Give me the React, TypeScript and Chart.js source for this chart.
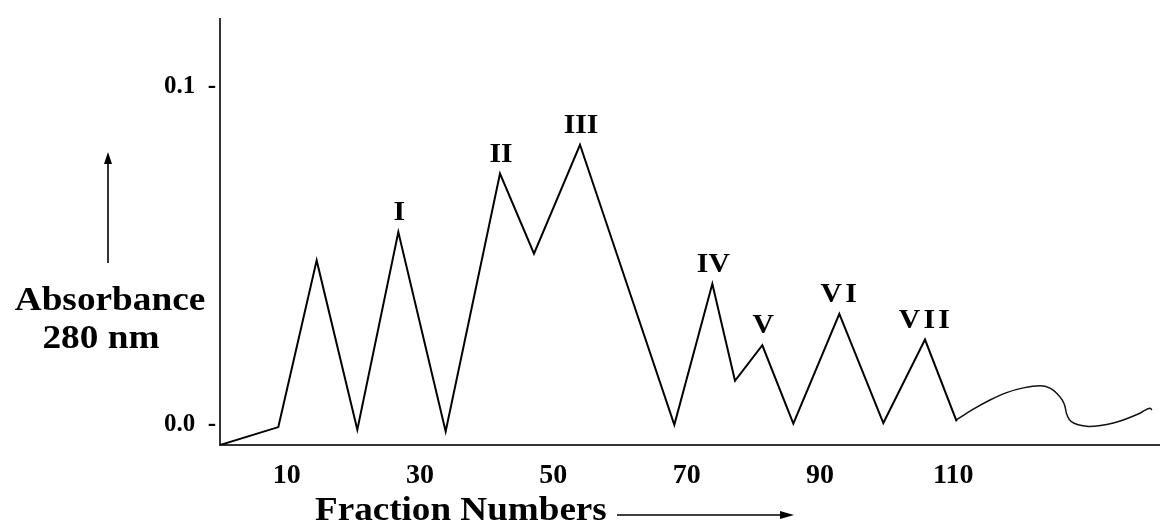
import React, { useEffect, useRef } from "react";
import { Chart, registerables } from "chart.js";

Chart.register(...registerables);

// Main elution profile (fraction number, absorbance at 280 nm)
const fractionsMain = [0, 8.75, 14.5, 20.6, 26.75, 33.85, 42.0, 47.1, 54.0, 68.15, 73.85, 77.25, 81.35, 86.0, 92.9, 99.5, 105.75, 110.5];
const absorbanceMain = [-0.006, -0.0007, 0.0486, -0.0015, 0.057, -0.002, 0.0743, 0.0506, 0.0828, 0.0, 0.0417, 0.013, 0.0235, 0.0003, 0.0328, 0.0005, 0.0252, 0.001];

// Smooth tail after fraction 110
const fractionsTail = [110.5, 113.0, 115.5, 118.0, 120.5, 123.0, 124.5, 125.5, 126.3, 126.75, 126.95, 127.4, 128.3, 129.5, 130.3, 134.0, 138.0, 139.5, 139.8];
const absorbanceTail = [0.0015, 0.0046, 0.0073, 0.0095, 0.0109, 0.0115, 0.0108, 0.0093, 0.0074, 0.0054, 0.0035, 0.0015, 0.0003, -0.0003, -0.0005, 0.0005, 0.0034, 0.0049, 0.0044];

// Peak labels and the index of the peak in the main series
const peakLabels = ["I", "II", "III", "IV", "V", "VI", "VII"];
const peakIndices = [4, 6, 8, 10, 12, 14, 16];

// Axis ticks
const xTickValues = [10, 30, 50, 70, 90, 110];
const yTickValues = [0, 0.1];
const yTickLabels = ["0.0  -", "0.1  -"];

const FONT = "'Liberation Serif', 'Times New Roman', serif";

function stretchText(ctx: CanvasRenderingContext2D, text: string, x: number, y: number, sx: number, align: CanvasTextAlign) {
  ctx.save();
  ctx.translate(x, y);
  ctx.scale(sx, 1);
  ctx.textAlign = align;
  ctx.textBaseline = "alphabetic";
  ctx.fillText(text, 0, 0);
  ctx.restore();
}

const annotationPlugin = {
  id: "annotations",
  afterDatasetsDraw(chart: any) {
    const ctx: CanvasRenderingContext2D = chart.ctx;
    const meta = chart.getDatasetMeta(0);
    ctx.save();
    ctx.fillStyle = "#000";
    ctx.font = `bold 27px ${FONT}`;
    peakLabels.forEach((lab, i) => {
      const pt = meta.data[peakIndices[i]];
      if (!pt) return;
      (ctx as any).letterSpacing = lab.startsWith("V") && lab.length > 1 ? "3px" : "0px";
      stretchText(ctx, lab, pt.x + 1, pt.y - 12, 1.1, "center");
    });
    (ctx as any).letterSpacing = "0px";
    ctx.restore();
  },
  afterDraw(chart: any) {
    const ctx: CanvasRenderingContext2D = chart.ctx;
    const area = chart.chartArea;
    ctx.save();
    ctx.fillStyle = "#000";
    ctx.strokeStyle = "#000";
    ctx.font = `bold 33px ${FONT}`;
    // y-axis title
    stretchText(ctx, "Absorbance", area.left - 110, 310, 1.13, "center");
    stretchText(ctx, "280 nm", area.left - 119, 348, 1.13, "center");
    // up arrow
    const ax = area.left - 112;
    ctx.lineWidth = 1.6;
    ctx.beginPath();
    ctx.moveTo(ax, 263);
    ctx.lineTo(ax, 160);
    ctx.stroke();
    ctx.beginPath();
    ctx.moveTo(ax, 152);
    ctx.lineTo(ax - 4, 164);
    ctx.lineTo(ax + 4, 164);
    ctx.closePath();
    ctx.fill();
    // x-axis title
    stretchText(ctx, "Fraction Numbers", area.left + 95, 520, 1.125, "left");
    // right arrow
    ctx.lineWidth = 1.3;
    ctx.beginPath();
    ctx.moveTo(area.left + 397, 515);
    ctx.lineTo(area.left + 565, 515);
    ctx.stroke();
    ctx.beginPath();
    ctx.moveTo(area.left + 574, 515);
    ctx.lineTo(area.left + 560, 511);
    ctx.lineTo(area.left + 560, 519);
    ctx.closePath();
    ctx.fill();
    ctx.restore();
  },
};

export default function App() {
  const canvasRef = useRef<HTMLCanvasElement | null>(null);

  useEffect(() => {
    if (!canvasRef.current) return;
    const chart = new Chart(canvasRef.current, {
      type: "line",
      data: {
        datasets: [
          {
            data: fractionsMain.map((x, i) => ({ x, y: absorbanceMain[i] })),
            borderColor: "#000",
            borderWidth: 2,
            pointRadius: 0,
            tension: 0,
            fill: false,
          },
          {
            data: fractionsTail.map((x, i) => ({ x, y: absorbanceTail[i] })),
            borderColor: "#111",
            borderWidth: 1.5,
            pointRadius: 0,
            cubicInterpolationMode: "monotone",
            fill: false,
          },
        ],
      },
      options: {
        animation: false,
        responsive: false,
        events: [],
        layout: { padding: { top: 17, right: 0, left: 0, bottom: 0 } },
        plugins: {
          legend: { display: false },
          tooltip: { enabled: false },
          title: { display: false },
        },
        scales: {
          x: {
            type: "linear",
            min: 0,
            max: 141,
            afterFit: (s: any) => {
              s.height = 79;
            },
            afterBuildTicks: (s: any) => {
              s.ticks = xTickValues.map((v) => ({ value: v }));
            },
            grid: { display: false, drawTicks: false },
            border: { display: true, color: "#333", width: 2 },
            ticks: {
              color: "#000",
              padding: 14,
              maxRotation: 0,
              autoSkip: false,
              font: { family: FONT, weight: "bold", size: 28 },
              callback: (v: any) => String(v),
            },
          },
          y: {
            type: "linear",
            min: -0.006,
            max: 0.12,
            afterFit: (s: any) => {
              s.width = 220;
            },
            afterBuildTicks: (s: any) => {
              s.ticks = yTickValues.map((v) => ({ value: v }));
            },
            grid: { display: false, drawTicks: false },
            border: { display: true, color: "#333", width: 2 },
            ticks: {
              color: "#000",
              padding: 4,
              autoSkip: false,
              font: { family: FONT, weight: "bold", size: 25 },
              callback: (v: any) => {
                const i = yTickValues.indexOf(v);
                return i >= 0 ? yTickLabels[i] : "";
              },
            },
          },
        },
      },
      plugins: [annotationPlugin],
    } as any);
    return () => chart.destroy();
  }, []);

  return (
    <div style={{ position: "absolute", left: 0, top: 0, width: 1160, height: 524, background: "#fff" }}>
      <canvas ref={canvasRef} width={1160} height={524} />
    </div>
  );
}
